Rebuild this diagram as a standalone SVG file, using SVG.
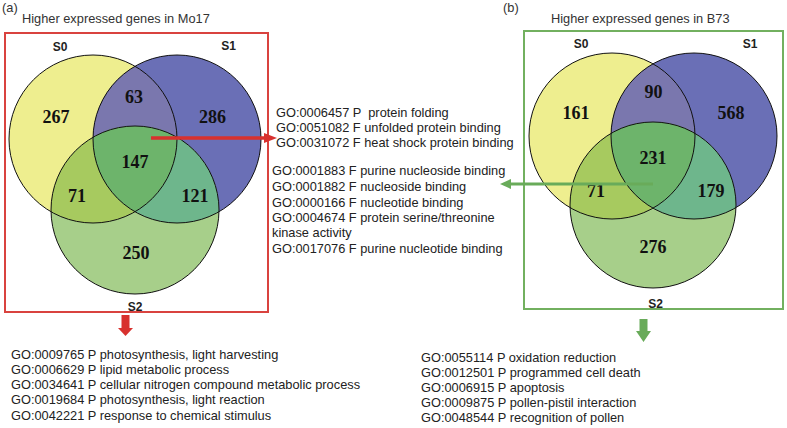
<svg xmlns="http://www.w3.org/2000/svg" width="787" height="428" viewBox="0 0 787 428">
<style>
.t{font-family:"Liberation Sans",Arial,sans-serif;font-size:12.8px;fill:#222}
.h{font-family:"Liberation Sans",Arial,sans-serif;font-size:12.8px;fill:#333}
.s{font-family:"Liberation Sans",Arial,sans-serif;font-size:12px;font-weight:bold;fill:#222;text-anchor:middle}
.n{font-family:"Liberation Serif","Times New Roman",serif;font-size:18px;font-weight:bold;fill:#111;text-anchor:middle}
.o{fill:none;stroke:#111;stroke-width:1}
.fy{fill:#eeee8f}.fb{fill:#6a6fb6}.fyb{fill:#7a77ae}.fg{fill:#a7cf8a}.fyg{fill:#a7ca5f}.fbg{fill:#6eb68c}.fc{fill:#6db46b}
</style>
<defs>
<clipPath id="caY"><circle cx="93" cy="139" r="84"/></clipPath>
<clipPath id="caB"><circle cx="177" cy="139" r="84"/></clipPath>
<clipPath id="cbY"><circle cx="612" cy="136" r="83"/></clipPath>
<clipPath id="cbB"><circle cx="694" cy="136" r="83"/></clipPath>
</defs>

<g id="panel-a">
<text class="h" x="2" y="12">(a)</text>
<text class="h" x="22" y="23">Higher expressed genes in Mo17</text>
<rect x="5" y="33" width="263" height="279" fill="none" stroke="#d9433f" stroke-width="2"/>
<g id="venn-a">
<circle class="fy" cx="93" cy="139" r="84"/>
<circle class="fb" cx="177" cy="139" r="84"/>
<circle class="fyb" cx="177" cy="139" r="84" clip-path="url(#caY)"/>
<circle class="fg" cx="135" cy="210" r="84"/>
<circle class="fyg" cx="135" cy="210" r="84" clip-path="url(#caY)"/>
<circle class="fbg" cx="135" cy="210" r="84" clip-path="url(#caB)"/>
<g clip-path="url(#caY)"><circle class="fc" cx="135" cy="210" r="84" clip-path="url(#caB)"/></g>
<circle class="o" cx="93" cy="139" r="84"/>
<circle class="o" cx="177" cy="139" r="84"/>
<circle class="o" cx="135" cy="210" r="84"/>
</g>
<text class="s" x="60" y="51">S0</text>
<text class="s" x="228.5" y="50">S1</text>
<text class="s" x="135" y="311">S2</text>
<text class="n" x="56" y="123">267</text>
<text class="n" x="134" y="103">63</text>
<text class="n" x="212.5" y="123">286</text>
<text class="n" x="135" y="168">147</text>
<text class="n" x="77" y="202">71</text>
<text class="n" x="195" y="202">121</text>
<text class="n" x="136" y="259">250</text>
</g>

<g id="panel-b">
<text class="h" x="503" y="12">(b)</text>
<text class="h" x="551" y="23">Higher expressed genes in B73</text>
<rect x="524" y="31" width="259" height="278" fill="none" stroke="#72b05f" stroke-width="2"/>
<g id="venn-b">
<circle class="fy" cx="612" cy="136" r="83"/>
<circle class="fb" cx="694" cy="136" r="83"/>
<circle class="fyb" cx="694" cy="136" r="83" clip-path="url(#cbY)"/>
<circle class="fg" cx="653" cy="205" r="83"/>
<circle class="fyg" cx="653" cy="205" r="83" clip-path="url(#cbY)"/>
<circle class="fbg" cx="653" cy="205" r="83" clip-path="url(#cbB)"/>
<g clip-path="url(#cbY)"><circle class="fc" cx="653" cy="205" r="83" clip-path="url(#cbB)"/></g>
<circle class="o" cx="612" cy="136" r="83"/>
<circle class="o" cx="694" cy="136" r="83"/>
<circle class="o" cx="653" cy="205" r="83"/>
</g>
<text class="s" x="581" y="48">S0</text>
<text class="s" x="750" y="48">S1</text>
<text class="s" x="655.5" y="308">S2</text>
<text class="n" x="576" y="119">161</text>
<text class="n" x="653.5" y="98">90</text>
<text class="n" x="731" y="119">568</text>
<text class="n" x="653" y="164">231</text>
<text class="n" x="596" y="197">71</text>
<text class="n" x="711" y="197">179</text>
<text class="n" x="653" y="253">276</text>
</g>

<g id="go-center-a">
<text class="t" x="276" y="117" xml:space="preserve">GO:0006457 P  protein folding</text>
<text class="t" x="276" y="132">GO:0051082 F unfolded protein binding</text>
<text class="t" x="276" y="147">GO:0031072 F heat shock protein binding</text>
</g>
<g id="go-center-b">
<text class="t" x="272" y="175">GO:0001883 F purine nucleoside binding</text>
<text class="t" x="272" y="191">GO:0001882 F nucleoside binding</text>
<text class="t" x="272" y="207">GO:0000166 F nucleotide binding</text>
<text class="t" x="272" y="222">GO:0004674 F protein serine/threonine</text>
<text class="t" x="272" y="237">kinase activity</text>
<text class="t" x="272" y="253">GO:0017076 F purine nucleotide binding</text>
</g>
<g id="go-bottom-a">
<text class="t" x="11" y="359">GO:0009765 P photosynthesis, light harvesting</text>
<text class="t" x="11" y="374">GO:0006629 P lipid metabolic process</text>
<text class="t" x="11" y="389">GO:0034641 P cellular nitrogen compound metabolic process</text>
<text class="t" x="11" y="404">GO:0019684 P photosynthesis, light reaction</text>
<text class="t" x="11" y="420">GO:0042221 P response to chemical stimulus</text>
</g>
<g id="go-bottom-b">
<text class="t" x="421" y="362">GO:0055114 P oxidation reduction</text>
<text class="t" x="421" y="377">GO:0012501 P programmed cell death</text>
<text class="t" x="421" y="392">GO:0006915 P apoptosis</text>
<text class="t" x="421" y="407">GO:0009875 P pollen-pistil interaction</text>
<text class="t" x="421" y="422">GO:0048544 P recognition of pollen</text>
</g>

<g id="connectors">
<line x1="151" y1="138" x2="266" y2="138" stroke="#d8312e" stroke-width="3.5"/>
<polygon points="264,133 277,138 264,143" fill="#d8312e"/>
<line x1="653" y1="184" x2="509" y2="184" stroke="#69ab5a" stroke-width="3"/>
<polygon points="511,179 500,184 511,189" fill="#69ab5a"/>
<polygon points="121.5,315 129.5,315 129.5,328 133,328 125.5,336 118,328 121.5,328" fill="#d8312e"/>
<polygon points="639.5,319 647.5,319 647.5,331 651,331 643.5,342 636,331 639.5,331" fill="#69ab5a"/>
</g>
</svg>
